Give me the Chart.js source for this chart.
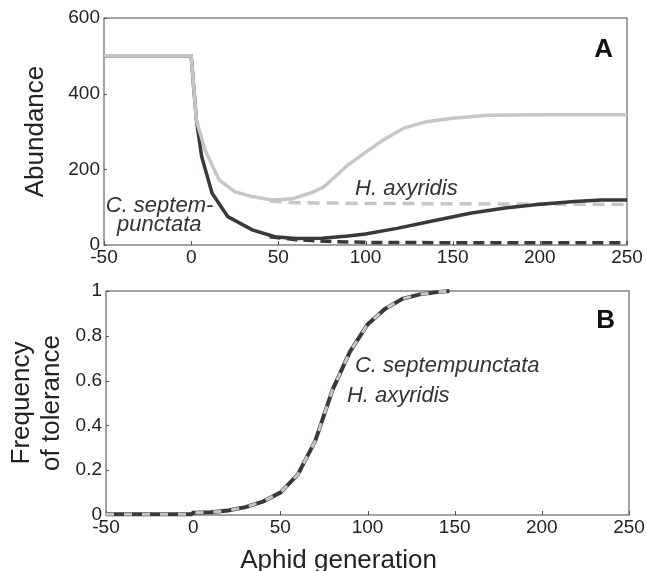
<!DOCTYPE html>
<html>
<head>
<meta charset="utf-8">
<script src="https://cdn.jsdelivr.net/npm/chart.js@4.4.1/dist/chart.umd.min.js"></script>
<style>
  html, body { margin: 0; padding: 0; background: #fff; }
  #wrap { position: relative; width: 647px; height: 571px; overflow: hidden; }
  canvas { position: absolute; left: 0; }
</style>
</head>
<body>
<div id="wrap">
  <canvas id="chartA" width="647" height="275" style="top:0"></canvas>
  <canvas id="chartB" width="647" height="301" style="top:270px"></canvas>
</div>
<script>
const FONT = '"Liberation Sans", Arial, Helvetica, sans-serif';
const DARK = '#363b33';
const LIGHT = '#c6c6c4';

// tick labels
const ticksX = [-50, 0, 50, 100, 150, 200, 250];
const ticksA = [0, 200, 400, 600];
const ticksB = [0, 0.2, 0.4, 0.6, 0.8, 1];

// panel A - abundance, with tolerance evolving (solid)
const genCseptA = [-50, 0, 3, 6, 12, 21, 35, 48, 60, 75, 90, 100, 118, 137, 160, 180, 200, 220, 235, 250];
const cseptA = [500, 500, 330, 234, 137, 75, 40, 22, 17, 18, 24, 29, 44, 62, 84, 98, 108, 115, 119, 119];
const genHaxyA = [-50, 0, 3, 8, 16, 25, 35, 46, 58, 70, 76, 90, 100, 110, 122, 135, 150, 170, 200, 250];
const haxyA = [500, 500, 330, 251, 172, 141, 128, 119, 122, 140, 153, 212, 245, 277, 309, 326, 335, 343, 344, 344];

// panel A - no tolerance (dashed)
const genCseptNoTol = [45, 60, 80, 100, 150, 250];
const cseptNoTol = [22, 14, 9, 7, 6, 6];
const genHaxyNoTol = [45, 60, 100, 150, 200, 250];
const haxyNoTol = [116, 112, 110, 109, 108, 107];

// panel B - frequency of tolerance
const genB = [-50, -1, 0, 10, 20, 30, 40, 50, 60, 70, 80, 90, 100, 110, 120, 130, 140, 147];
const tolCsept = [0.003, 0.003, 0.01, 0.012, 0.02, 0.035, 0.06, 0.1, 0.18, 0.33, 0.56, 0.73, 0.85, 0.92, 0.965, 0.985, 0.995, 1.0];
const tolHaxy = [0.003, 0.003, 0.01, 0.012, 0.02, 0.035, 0.06, 0.1, 0.18, 0.33, 0.56, 0.73, 0.85, 0.92, 0.965, 0.985, 0.995, 1.0];

const pts = (xs, ys) => xs.map((x, i) => ({x, y: ys[i]}));

function line(data, color, width, dash) {
    return {
        data,
        borderColor: color,
        borderWidth: width,
        borderDash: dash || [],
        pointRadius: 0,
        tension: 0,
        clip: 6
    };
}

// box round the plot + small inward ticks
const frame = {
    id: 'frame',
    beforeDatasetsDraw(chart) {
        const {ctx, chartArea: a, scales: {x, y}} = chart;
        ctx.save();
        ctx.strokeStyle = '#707070';
        ctx.lineWidth = 1.3;
        ctx.strokeRect(a.left, a.top, a.right - a.left, a.bottom - a.top);
        ctx.strokeStyle = '#555';
        ctx.lineWidth = 1;
        ctx.beginPath();
        x.ticks.forEach(t => {
            const px = Math.round(x.getPixelForValue(t.value)) + 0.5;
            ctx.moveTo(px, a.bottom);
            ctx.lineTo(px, a.bottom - 4);
        });
        y.ticks.forEach(t => {
            const py = Math.round(y.getPixelForValue(t.value)) + 0.5;
            ctx.moveTo(a.left, py);
            ctx.lineTo(a.left + 3, py);
        });
        ctx.stroke();
        ctx.restore();
    }
};

// text notes placed at data coords (or fixed pixels)
const notes = {
    id: 'notes',
    afterDraw(chart, args, opts) {
        const {ctx, scales: {x, y}} = chart;
        ctx.save();
        (opts.items || []).forEach(it => {
            ctx.font = it.font;
            ctx.fillStyle = it.color || '#333';
            ctx.textAlign = it.align || 'left';
            ctx.textBaseline = 'alphabetic';
            const px = x.getPixelForValue(it.x);
            const py = it.py != null ? it.py : y.getPixelForValue(it.y);
            ctx.fillText(it.text, px, py);
        });
        ctx.restore();
    }
};

function makeOptions(cfg) {
    return {
        responsive: false,
        animation: false,
        layout: {padding: cfg.padding},
        plugins: {
            legend: {display: false},
            tooltip: {enabled: false},
            notes: {items: cfg.notes}
        },
        scales: {
            x: {
                type: 'linear',
                min: -50,
                max: 250,
                grid: {display: false, drawTicks: false},
                border: {display: false},
                afterBuildTicks: s => { s.ticks = ticksX.map(v => ({value: v})); },
                afterFit: s => { s.height = cfg.xHeight; },
                ticks: {
                    autoSkip: false,
                    maxRotation: 0,
                    padding: 1,
                    color: '#222',
                    font: {family: FONT, size: 19},
                    callback: v => String(v)
                }
            },
            y: {
                type: 'linear',
                min: 0,
                max: cfg.yMax,
                grid: {display: false, drawTicks: false},
                border: {display: false},
                afterBuildTicks: s => { s.ticks = cfg.yTicks.map(v => ({value: v})); },
                afterFit: s => { s.width = cfg.yWidth; },
                ticks: {
                    padding: 4,
                    color: '#222',
                    font: {family: FONT, size: 19},
                    callback: v => String(v)
                },
                title: {
                    display: true,
                    text: cfg.yTitle,
                    color: '#222',
                    padding: {top: cfg.titlePad, bottom: 0},
                    font: {family: FONT, size: 26, lineHeight: 1.15}
                }
            }
        }
    };
}

const italicFont = 'italic 22px ' + FONT;

new Chart(document.getElementById('chartA'), {
    type: 'line',
    data: {
        datasets: [
            line(pts(genHaxyA, haxyA), LIGHT, 3.5),
            line(pts(genCseptA, cseptA), DARK, 3.5),
            line(pts(genCseptNoTol, cseptNoTol), DARK, 3.5, [11, 6]),
            line(pts(genHaxyNoTol, haxyNoTol), LIGHT, 3.5, [12, 7])
        ]
    },
    options: makeOptions({
        padding: {top: 18, right: 20, left: 0, bottom: 0},
        xHeight: 30,
        yWidth: 104,
        yMax: 600,
        yTicks: ticksA,
        yTitle: 'Abundance',
        titlePad: 21,
        notes: [
            {text: 'C. septem-', x: -49, y: 87, font: italicFont},
            {text: 'punctata', x: -42.5, y: 37, font: italicFont},
            {text: 'H. axyridis', x: 94, y: 132, font: italicFont},
            {text: 'A', x: 242, y: 497, align: 'right', font: 'bold 26px ' + FONT, color: '#111'}
        ]
    }),
    plugins: [frame, notes]
});

new Chart(document.getElementById('chartB'), {
    type: 'line',
    data: {
        datasets: [
            line(pts(genB, tolHaxy), LIGHT, 3, [8, 10]),
            line(pts(genB, tolCsept), DARK, 4)
        ]
    },
    options: makeOptions({
        padding: {top: 21, right: 18, left: 0, bottom: 0},
        xHeight: 56,
        yWidth: 106,
        yMax: 1,
        yTicks: ticksB,
        yTitle: ['Frequency', 'of tolerance'],
        titlePad: 7,
        notes: [
            {text: 'C. septempunctata', x: 92.8, y: 0.64, font: italicFont},
            {text: 'H. axyridis', x: 88.2, y: 0.504, font: italicFont},
            {text: 'B', x: 242, y: 0.835, align: 'right', font: 'bold 26px ' + FONT, color: '#111'},
            {text: 'Aphid generation', x: 83.4, py: 298, align: 'center', font: '26px ' + FONT, color: '#222'}
        ]
    }),
    plugins: [frame, notes]
});
</script>
</body>
</html>
